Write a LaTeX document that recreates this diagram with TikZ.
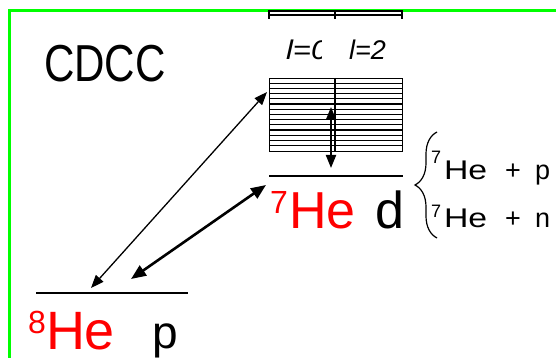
\documentclass[tikz,border=0pt]{standalone}
\usepackage{fontspec}
\usepackage{graphicx}
\setmainfont{Liberation Sans}
\usetikzlibrary{arrows.meta,decorations.pathreplacing}
\definecolor{frame}{RGB}{0,255,0}
\definecolor{hered}{RGB}{255,0,0}
\begin{document}
\begin{tikzpicture}[x=1pt,y=-1pt,
  txt/.style={anchor=base west,inner sep=0pt,outer sep=0pt},
  lvl/.style={line width=1.3pt},
  thin arr/.style={line width=1.3pt,{Triangle[length=13pt,width=10pt]}-{Triangle[length=13pt,width=10pt]}},
  thick arr/.style={line width=2.6pt,{Triangle[length=15pt,width=12pt]}-{Triangle[length=15pt,width=12pt]}},
  grid line/.style={line width=1.1pt}]
\useasboundingbox (0,0) rectangle (556,358);
% frame
\draw[frame,line width=3pt] (9.5,358) -- (9.5,10.5) -- (556,10.5);
% cut-off upper box
\draw[grid line] (269,11) -- (402,11);
\draw[grid line] (269,15) -- (402,15);
\foreach \x in {269,335,402} \draw[grid line] (\x,10) -- (\x,19);
% labels l=0, l=2
\begin{scope}
\clip (280,30) rectangle (321,70);
\node[txt,font=\fontsize{27}{27}\selectfont\itshape] (l0) at (286,60) {\scalebox{1.15}[1]{l=0}};
\end{scope}
\node[txt,font=\fontsize{27}{27}\selectfont\itshape] (l2) at (349,60) {l=2};
% main box
\node[draw,line width=1.3pt,minimum width=133pt,minimum height=73pt,inner sep=0pt,anchor=north west] (box) at (269,78) {};
\foreach \k in {1,...,13} \draw[grid line] (269,78+\k*5.2) -- (402,78+\k*5.2);
\draw[grid line] (335,78) -- (335,151);
% vertical double arrow
\coordinate (vt) at (331,107);
\coordinate (vb) at (331,168);
\draw[line width=2pt,{Triangle[length=13pt,width=10pt]}-{Triangle[length=13pt,width=10pt]}] (vt) -- (vb);
% levels
\coordinate (l7a) at (269,176); \coordinate (l7b) at (403,176);
\draw[lvl] (l7a) -- (l7b);
\coordinate (l8a) at (36,293); \coordinate (l8b) at (188,293);
\draw[lvl] (l8a) -- (l8b);
% arrows
\coordinate (a1) at (91,288); \coordinate (a2) at (267,92);
\draw[thin arr] (a1) -- (a2);
\coordinate (b1) at (131,279); \coordinate (b2) at (266,185);
\draw[thick arr] (b1) -- (b2);
% CDCC
\node[txt,font=\fontsize{52}{52}\selectfont] (cdcc) at (44,82) {\scalebox{0.81}[1]{CDCC}};
% 7He d
\node[txt,font=\fontsize{32}{32}\selectfont,text=hered] (s7) at (270,213) {7};
\node[txt,font=\fontsize{52}{52}\selectfont,text=hered] (he7) at (289,228) {He};
\node[txt,font=\fontsize{52}{52}\selectfont] (d) at (375,228) {d};
% 8He p
\node[txt,font=\fontsize{32}{32}\selectfont,text=hered] (s8) at (28,333) {8};
\node[txt,font=\fontsize{54}{54}\selectfont,text=hered] (he8) at (46,349) {He};
\node[txt,font=\fontsize{46}{46}\selectfont] (p) at (152,348) {p};
% brace
\coordinate (bt) at (437,132); \coordinate (bb) at (437,238);
\draw[line width=1.2pt,decorate,decoration={brace,amplitude=22pt}] (bb) -- (bt);
% channels
\node[txt,font=\fontsize{18}{18}\selectfont] (c1s) at (431,164) {7};
\node[txt,font=\fontsize{27}{27}\selectfont] (c1h) at (444,179) {\scalebox{1.25}[1]{He}};
\node[txt,font=\fontsize{27}{27}\selectfont] (c1p) at (505,179) {+};
\node[txt,font=\fontsize{27}{27}\selectfont] (c1c) at (535,179) {p};
\node[txt,font=\fontsize{18}{18}\selectfont] (c2s) at (431,217) {7};
\node[txt,font=\fontsize{27}{27}\selectfont] (c2h) at (444,227) {\scalebox{1.25}[1]{He}};
\node[txt,font=\fontsize{27}{27}\selectfont] (c2p) at (505,227) {+};
\node[txt,font=\fontsize{27}{27}\selectfont] (c2c) at (535,227) {n};
\end{tikzpicture}
\end{document}
